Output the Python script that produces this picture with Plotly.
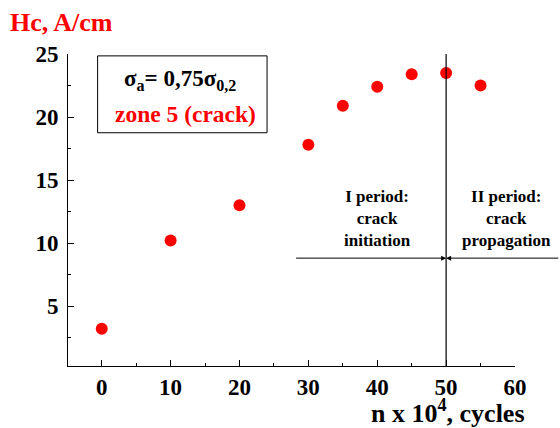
import plotly.graph_objects as go

cycles = [0, 10, 20, 30, 35, 40, 45, 50, 55]
hc = [3.2, 10.2, 13.0, 17.8, 20.9, 22.4, 23.4, 23.5, 22.5]
x_ticks = [0, 10, 20, 30, 40, 50, 60]
y_ticks = [5, 10, 15, 20, 25]
boundary_x = 50
arrow_y = 8.8
arrow_left_start = 28
arrow_right_start = 66.5

FONT = "Liberation Serif, 'Times New Roman', Times, serif"

fig = go.Figure()
fig.add_trace(go.Scatter(
    x=cycles, y=hc, mode="markers",
    marker=dict(color="#ff0000", size=12, line=dict(width=0)),
    showlegend=False, cliponaxis=False,
))

fig.update_layout(
    width=560, height=428,
    margin=dict(l=68, r=45, t=54, b=62, autoexpand=False),
    paper_bgcolor="white", plot_bgcolor="white",
    font=dict(family=FONT, size=20, color="black"),
    xaxis=dict(
        range=[-4.9, 60], tickvals=x_ticks, showgrid=False, zeroline=False,
        showline=True, linecolor="black", linewidth=1, automargin=False,
        ticks="inside", ticklen=6, tickcolor="black", tickwidth=1, ticklabelstandoff=0,
        minor=dict(dtick=5, ticks="inside", ticklen=3, tickcolor="black", tick0=0),
        tickfont=dict(family=FONT, size=23, color="black", weight="bold"),
    ),
    yaxis=dict(
        range=[0.24, 25], tickvals=y_ticks, showgrid=False, zeroline=False,
        showline=True, linecolor="black", linewidth=1, automargin=False,
        ticks="inside", ticklen=6, tickcolor="black", tickwidth=1, ticklabelstandoff=4,
        minor=dict(dtick=2.5, ticks="inside", ticklen=3, tickcolor="black", tick0=0),
        tickfont=dict(family=FONT, size=23, color="black", weight="bold"),
    ),
)

# vertical boundary line
fig.add_shape(type="line", xref="x", yref="paper", x0=boundary_x, x1=boundary_x,
              y0=0, y1=1, line=dict(color="black", width=1.2))

# arrows
fig.add_annotation(x=boundary_x, y=arrow_y, ax=arrow_left_start, ay=arrow_y,
                   xref="x", yref="y", axref="x", ayref="y", text="",
                   showarrow=True, arrowhead=2, arrowsize=1, arrowwidth=1, arrowcolor="black")
fig.add_annotation(x=boundary_x, y=arrow_y, ax=arrow_right_start, ay=arrow_y,
                   xref="x", yref="y", axref="x", ayref="y", text="",
                   showarrow=True, arrowhead=2, arrowsize=1, arrowwidth=1, arrowcolor="black")

# period labels
fig.add_annotation(x=40, y=11.95, xref="x", yref="y", text="<b>I period:<br>crack<br>initiation</b>",
                   showarrow=False, font=dict(family=FONT, size=17, color="black"), align="center")
fig.add_annotation(x=58.8, y=11.95, xref="x", yref="y", text="<b>II period:<br>crack<br>propagation</b>",
                   showarrow=False, font=dict(family=FONT, size=17, color="black"), align="center")

# info box
fig.add_shape(type="rect", xref="x", yref="y", x0=-0.6, x1=24.0, y0=18.75, y1=24.85,
              line=dict(color="black", width=1), fillcolor="rgba(0,0,0,0)")
fig.add_annotation(x=11.4, y=22.97, xref="x", yref="y",
                   text="<b>σ<sub>a</sub>= 0,75σ<sub>0,2</sub></b>",
                   showarrow=False, font=dict(family=FONT, size=23, color="black"), align="center")
fig.add_annotation(x=12.2, y=20.2, xref="x", yref="y",
                   text="<b>zone 5 (crack)</b>",
                   showarrow=False, font=dict(family=FONT, size=23.5, color="#ff0000"), align="center")

# axis titles
fig.add_annotation(x=(8 - 68) / 447, y=1 + 31 / 312, xref="paper", yref="paper",
                   text="<b>Hc, A/cm</b>", showarrow=False, xanchor="left", yanchor="middle",
                   font=dict(family=FONT, size=26, color="#ff0000"))
fig.add_annotation(x=(527 - 68) / 447, y=-(411 - 366) / 312, xref="paper", yref="paper",
                   text="<b>n x 10<sup>4</sup>, cycles</b>", showarrow=False, xanchor="right", yanchor="middle",
                   font=dict(family=FONT, size=26, color="black"))

fig.write_html("out.html", config={"displayModeBar": False},
               post_script="document.body.style.margin='0';")
